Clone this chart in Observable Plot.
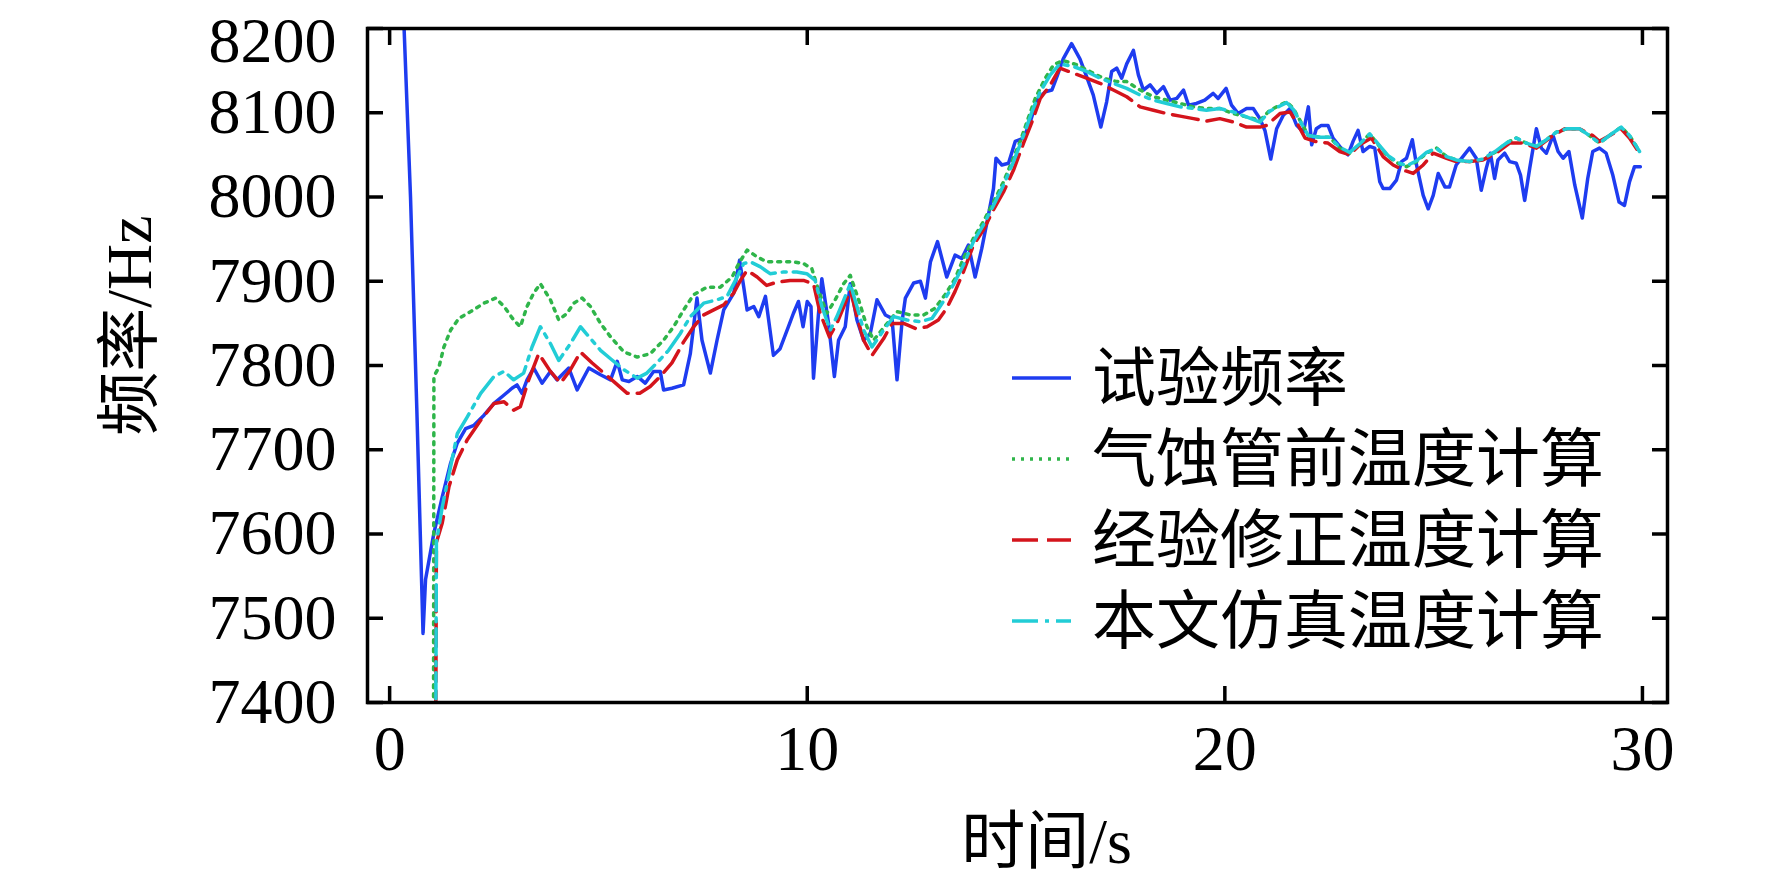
<!DOCTYPE html>
<html>
<head>
<meta charset="utf-8">
<script src="https://cdn.jsdelivr.net/npm/d3@7"></script>
<script src="https://cdn.jsdelivr.net/npm/@observablehq/plot@0.6"></script>
<style>
  html, body { margin: 0; padding: 0; background: #fff; }
  #wrap { position: relative; width: 1772px; height: 886px; }
  #legend { position: absolute; left: 0; top: 0; pointer-events: none; }
</style>
</head>
<body>
<div id="wrap"></div>
<script>
// ---- data ----
const xTicks = [0, 10, 20, 30];
const yTicks = [7400, 7500, 7600, 7700, 7800, 7900, 8000, 8100, 8200];
const seriesNames = ["试验频率", "气蚀管前温度计算", "经验修正温度计算", "本文仿真温度计算"];

// 试验频率 [time s, frequency Hz]
const testFreq = [
[0.30,8260],[0.50,8000],[0.65,7750],[0.80,7482],[0.86,7546],[1.06,7601],[1.26,7644],[1.46,7684],
[1.62,7708],[1.82,7725],[2.02,7729],[2.26,7741],[2.50,7755],[2.74,7765],[2.93,7773],[3.05,7777],
[3.17,7767],[3.29,7783],[3.45,7797],[3.65,7779],[3.85,7793],[4.01,7783],[4.29,7797],[4.49,7771],
[4.77,7797],[5.05,7789],[5.29,7783],[5.45,7805],[5.57,7783],[5.73,7781],[5.93,7787],[6.12,7779],
[6.32,7793],[6.48,7793],[6.56,7771],[6.76,7773],[7.04,7777],[7.20,7814],[7.36,7880],[7.48,7830],
[7.68,7791],[7.84,7830],[8.00,7866],[8.24,7886],[8.38,7925],[8.48,7893],[8.56,7866],[8.72,7870],
[8.84,7858],[9.00,7882],[9.19,7812],[9.35,7820],[9.55,7846],[9.67,7862],[9.79,7876],[9.90,7846],
[10.00,7876],[10.09,7870],[10.15,7785],[10.27,7862],[10.35,7903],[10.51,7850],[10.65,7787],[10.75,7830],
[10.91,7846],[11.03,7897],[11.19,7854],[11.35,7830],[11.51,7838],[11.67,7878],[11.87,7860],[12.03,7856],
[12.15,7783],[12.27,7852],[12.35,7880],[12.55,7898],[12.71,7900],[12.83,7880],[12.95,7923],[13.12,7947],
[13.34,7905],[13.54,7931],[13.70,7927],[13.86,7943],[14.02,7905],[14.18,7939],[14.34,7979],[14.46,8010],
[14.52,8046],[14.66,8038],[14.82,8040],[14.98,8066],[15.18,8070],[15.34,8089],[15.50,8115],[15.70,8125],
[15.86,8127],[15.98,8143],[16.13,8164],[16.33,8182],[16.53,8164],[16.69,8143],[16.85,8121],[17.03,8083],
[17.17,8113],[17.29,8149],[17.41,8153],[17.53,8141],[17.65,8158],[17.81,8174],[17.93,8145],[18.05,8127],
[18.21,8133],[18.37,8123],[18.53,8131],[18.69,8115],[18.85,8117],[19.01,8127],[19.13,8109],[19.32,8111],
[19.52,8115],[19.72,8123],[19.84,8117],[20.03,8129],[20.16,8109],[20.32,8099],[20.52,8105],[20.68,8105],
[20.84,8093],[20.96,8079],[21.10,8045],[21.24,8081],[21.40,8097],[21.56,8105],[21.72,8085],[21.88,8077],
[22.00,8107],[22.08,8062],[22.19,8081],[22.31,8085],[22.47,8085],[22.59,8070],[22.75,8060],[22.95,8050],
[23.07,8066],[23.19,8079],[23.31,8054],[23.47,8060],[23.59,8058],[23.71,8018],[23.79,8010],[23.95,8010],
[24.11,8020],[24.23,8042],[24.35,8046],[24.49,8068],[24.59,8038],[24.75,8002],[24.87,7986],[24.99,8002],
[25.11,8028],[25.27,8012],[25.38,8012],[25.54,8038],[25.70,8048],[25.86,8058],[26.02,8046],[26.14,8008],
[26.26,8034],[26.36,8052],[26.46,8022],[26.54,8044],[26.70,8052],[26.82,8042],[26.98,8040],[27.08,8026],
[27.18,7996],[27.30,8034],[27.46,8081],[27.58,8058],[27.70,8052],[27.86,8073],[27.98,8054],[28.10,8046],
[28.24,8054],[28.38,8014],[28.56,7975],[28.69,8022],[28.81,8054],[28.97,8058],[29.13,8052],[29.29,8026],
[29.44,7994],[29.57,7990],[29.69,8018],[29.81,8036],[29.95,8036]
];

// 气蚀管前温度计算
const preTempCalc = [
[1.05,7300],[1.06,7787],[1.18,7798],[1.30,7822],[1.46,7842],[1.66,7856],[1.94,7864],[2.26,7874],
[2.54,7880],[2.74,7870],[2.97,7854],[3.13,7846],[3.29,7870],[3.45,7886],[3.61,7897],[3.85,7878],
[4.05,7854],[4.25,7862],[4.41,7874],[4.61,7880],[4.81,7870],[5.05,7850],[5.29,7834],[5.61,7816],
[5.93,7810],[6.24,7814],[6.56,7830],[6.80,7846],[7.04,7866],[7.28,7884],[7.60,7893],[7.92,7893],
[8.20,7905],[8.36,7921],[8.56,7937],[8.80,7929],[9.03,7923],[9.35,7923],[9.67,7923],[9.91,7921],
[10.11,7915],[10.27,7889],[10.47,7862],[10.67,7878],[10.87,7897],[11.03,7907],[11.23,7878],[11.43,7846],
[11.59,7830],[11.83,7845],[12.15,7864],[12.47,7860],[12.79,7860],[13.06,7868],[13.30,7884],[13.54,7903],
[13.74,7927],[13.98,7951],[14.22,7971],[14.46,7994],[14.70,8018],[14.90,8042],[15.10,8066],[15.26,8089],
[15.46,8117],[15.70,8141],[15.90,8157],[16.13,8162],[16.45,8157],[16.77,8149],[17.09,8141],[17.41,8137],
[17.65,8137],[17.97,8127],[18.29,8119],[18.61,8115],[18.93,8111],[19.25,8107],[19.56,8105],[19.88,8105],
[20.20,8099],[20.52,8095],[20.84,8091],[21.08,8103],[21.32,8109],[21.48,8113],[21.64,8105],[21.80,8091],
[22.00,8073],[22.27,8071],[22.51,8071],[22.75,8058],[22.99,8052],[23.23,8062],[23.47,8075],[23.67,8062],
[23.91,8048],[24.15,8040],[24.35,8036],[24.59,8042],[24.83,8052],[25.07,8058],[25.31,8048],[25.54,8044],
[25.86,8042],[26.18,8044],[26.50,8054],[26.74,8064],[26.98,8070],[27.22,8064],[27.46,8060],[27.70,8068],
[27.94,8077],[28.18,8081],[28.49,8081],[28.73,8073],[28.97,8064],[29.21,8073],[29.49,8083],[29.69,8073],
[29.93,8054]
];

// 经验修正温度计算
const empiricalCalc = [
[1.10,7300],[1.12,7590],[1.26,7613],[1.42,7656],[1.62,7688],[1.86,7712],[2.18,7735],[2.50,7755],
[2.74,7757],[2.97,7747],[3.13,7751],[3.33,7783],[3.57,7814],[3.85,7793],[4.09,7779],[4.33,7795],
[4.57,7816],[4.85,7803],[5.13,7791],[5.41,7779],[5.69,7767],[5.99,7767],[6.24,7775],[6.48,7787],
[6.76,7803],[7.04,7828],[7.28,7846],[7.52,7860],[7.76,7866],[8.00,7872],[8.24,7886],[8.40,7901],
[8.56,7913],[8.80,7905],[9.03,7895],[9.27,7899],[9.59,7901],[9.91,7901],[10.15,7897],[10.31,7862],
[10.53,7834],[10.71,7850],[10.91,7874],[11.03,7890],[11.19,7858],[11.35,7830],[11.55,7812],[11.83,7832],
[12.03,7850],[12.31,7850],[12.59,7844],[12.87,7846],[13.14,7854],[13.34,7868],[13.54,7888],[13.74,7911],
[13.98,7943],[14.22,7961],[14.46,7985],[14.70,8006],[14.94,8032],[15.18,8064],[15.38,8089],[15.58,8117],
[15.82,8133],[16.05,8153],[16.37,8147],[16.69,8141],[17.01,8135],[17.33,8127],[17.65,8119],[17.97,8107],
[18.29,8103],[18.61,8099],[18.93,8096],[19.25,8093],[19.56,8090],[19.88,8093],[20.20,8089],[20.52,8083],
[20.84,8083],[21.00,8085],[21.32,8099],[21.56,8101],[21.76,8085],[21.92,8070],[22.16,8066],[22.47,8064],
[22.75,8054],[22.99,8050],[23.23,8062],[23.51,8070],[23.79,8048],[24.03,8038],[24.27,8032],[24.51,8028],
[24.75,8038],[24.99,8052],[25.31,8046],[25.54,8042],[25.86,8042],[26.18,8044],[26.50,8052],[26.82,8064],
[27.14,8064],[27.46,8058],[27.62,8064],[27.86,8073],[28.14,8081],[28.49,8081],[28.81,8073],[28.97,8066],
[29.29,8075],[29.49,8081],[29.69,8070],[29.93,8052]
];

// 本文仿真温度计算
const simCalc = [
[1.10,7300],[1.12,7590],[1.26,7632],[1.46,7680],[1.62,7719],[1.86,7739],[2.18,7767],[2.50,7787],
[2.74,7793],[2.97,7783],[3.21,7791],[3.41,7822],[3.61,7846],[3.85,7826],[4.05,7806],[4.33,7826],
[4.57,7846],[4.81,7832],[5.05,7818],[5.29,7808],[5.61,7795],[5.93,7785],[6.16,7791],[6.40,7803],
[6.68,7818],[6.96,7838],[7.20,7858],[7.52,7874],[7.84,7878],[8.08,7882],[8.28,7901],[8.48,7921],
[8.64,7923],[8.88,7917],[9.11,7909],[9.43,7911],[9.75,7911],[9.99,7909],[10.19,7901],[10.35,7870],
[10.55,7842],[10.71,7858],[10.91,7882],[11.03,7897],[11.19,7870],[11.35,7842],[11.55,7822],[11.83,7842],
[12.07,7858],[12.39,7854],[12.71,7852],[12.99,7856],[13.26,7876],[13.50,7896],[13.74,7919],[13.98,7947],
[14.22,7967],[14.46,7990],[14.70,8014],[14.94,8042],[15.18,8073],[15.38,8101],[15.58,8125],[15.82,8145],
[16.05,8158],[16.37,8155],[16.69,8149],[17.01,8141],[17.33,8135],[17.65,8129],[17.97,8121],[18.29,8115],
[18.61,8111],[18.93,8107],[19.25,8105],[19.56,8103],[19.88,8105],[20.20,8101],[20.52,8095],[20.84,8089],
[21.08,8102],[21.32,8108],[21.48,8112],[21.64,8104],[21.80,8090],[22.00,8073],[22.27,8071],[22.51,8071],
[22.75,8059],[22.99,8053],[23.23,8063],[23.47,8075],[23.67,8063],[23.91,8049],[24.15,8041],[24.35,8037],
[24.59,8043],[24.83,8053],[25.07,8058],[25.31,8048],[25.54,8044],[25.86,8042],[26.18,8045],[26.50,8055],
[26.74,8064],[26.98,8070],[27.22,8064],[27.46,8060],[27.70,8068],[27.94,8077],[28.18,8081],[28.49,8081],
[28.73,8073],[28.97,8064],[29.21,8073],[29.49,8083],[29.69,8073],[29.93,8054]
];

// ---- styles ----
const seriesData = [testFreq, preTempCalc, empiricalCalc, simCalc];
const seriesColors = ["#1e3cf0", "#2fb54a", "#d4141c", "#22cdd6"];
const seriesDash = [null, "3,6", "26,9", "26,7,4,7"];
const serif = "'Liberation Serif', 'Noto Sans CJK SC', serif";
const cjk = "'Liberation Serif', 'Noto Sans CJK SC', sans-serif";
const fmt = d3.format("d");

const lineMarks = seriesData.map((data, i) =>
  Plot.line(data, {
    x: d => d[0], y: d => d[1],
    stroke: seriesColors[i], strokeWidth: 3.5,
    strokeDasharray: seriesDash[i],
    strokeLinejoin: "round",
    clip: true
  })
);

const tickOpts = {tickSize: -16, tickFormat: () => "", strokeWidth: 3.5, label: null};
const yTopTick = yTicks[yTicks.length - 1];
const yLabelOpts = {anchor: "left", tickSize: 0, tickPadding: 31, fontSize: 64, fontFamily: serif, label: null, tickFormat: fmt};

const chart = Plot.plot({
  width: 1772, height: 886,
  marginLeft: 367, marginRight: 105, marginTop: 28, marginBottom: 184,
  x: {domain: [-0.53, 30.6]},
  y: {domain: [7400, 8200]},
  style: {fontFamily: serif, background: "white", color: "black", overflow: "visible"},
  marks: [
    ...lineMarks,
    Plot.frame({stroke: "black", strokeWidth: 3.5}),
    Plot.axisY(yTicks, {anchor: "left", ...tickOpts}),
    Plot.axisY(yTicks, {anchor: "right", ...tickOpts}),
    Plot.axisX(xTicks, {anchor: "bottom", ...tickOpts}),
    Plot.axisX(xTicks, {anchor: "top", ...tickOpts}),
    Plot.axisY(yTicks.filter(v => v !== yTopTick), yLabelOpts),
    Plot.axisY([yTopTick], {...yLabelOpts, dy: 13}),
    Plot.axisX(xTicks, {anchor: "bottom", tickSize: 0, tickPadding: 22, fontSize: 64, fontFamily: serif, label: null, tickFormat: fmt}),
    Plot.text(["时间/s"], {frameAnchor: "bottom", textAnchor: "middle", lineAnchor: "middle", dx: 29, dy: 140, fontSize: 64, fontFamily: cjk, fill: "black"}),
    Plot.text(["频率/Hz"], {frameAnchor: "left", textAnchor: "middle", lineAnchor: "middle", rotate: -90, dx: -237, dy: -40, fontSize: 64, fontFamily: cjk, fill: "black"})
  ]
});

const wrap = document.getElementById("wrap");
wrap.appendChild(chart);

// ---- legend (inside plot area, built from series arrays) ----
const legendX = 1012, legendY = 378, rowGap = 81, sampleLen = 59, textGap = 21;
const lg = d3.select(wrap).append("svg")
  .attr("id", "legend").attr("width", 1772).attr("height", 886);
seriesNames.forEach((name, i) => {
  const y = legendY + i * rowGap;
  lg.append("line")
    .attr("x1", legendX).attr("x2", legendX + sampleLen)
    .attr("y1", y).attr("y2", y)
    .attr("stroke", seriesColors[i]).attr("stroke-width", 3.5)
    .attr("stroke-dasharray", seriesDash[i]);
  lg.append("text")
    .attr("x", legendX + sampleLen + textGap).attr("y", y)
    .attr("dominant-baseline", "central")
    .attr("font-family", cjk).attr("font-size", 64).attr("fill", "black")
    .text(name);
});
</script>
</body>
</html>
